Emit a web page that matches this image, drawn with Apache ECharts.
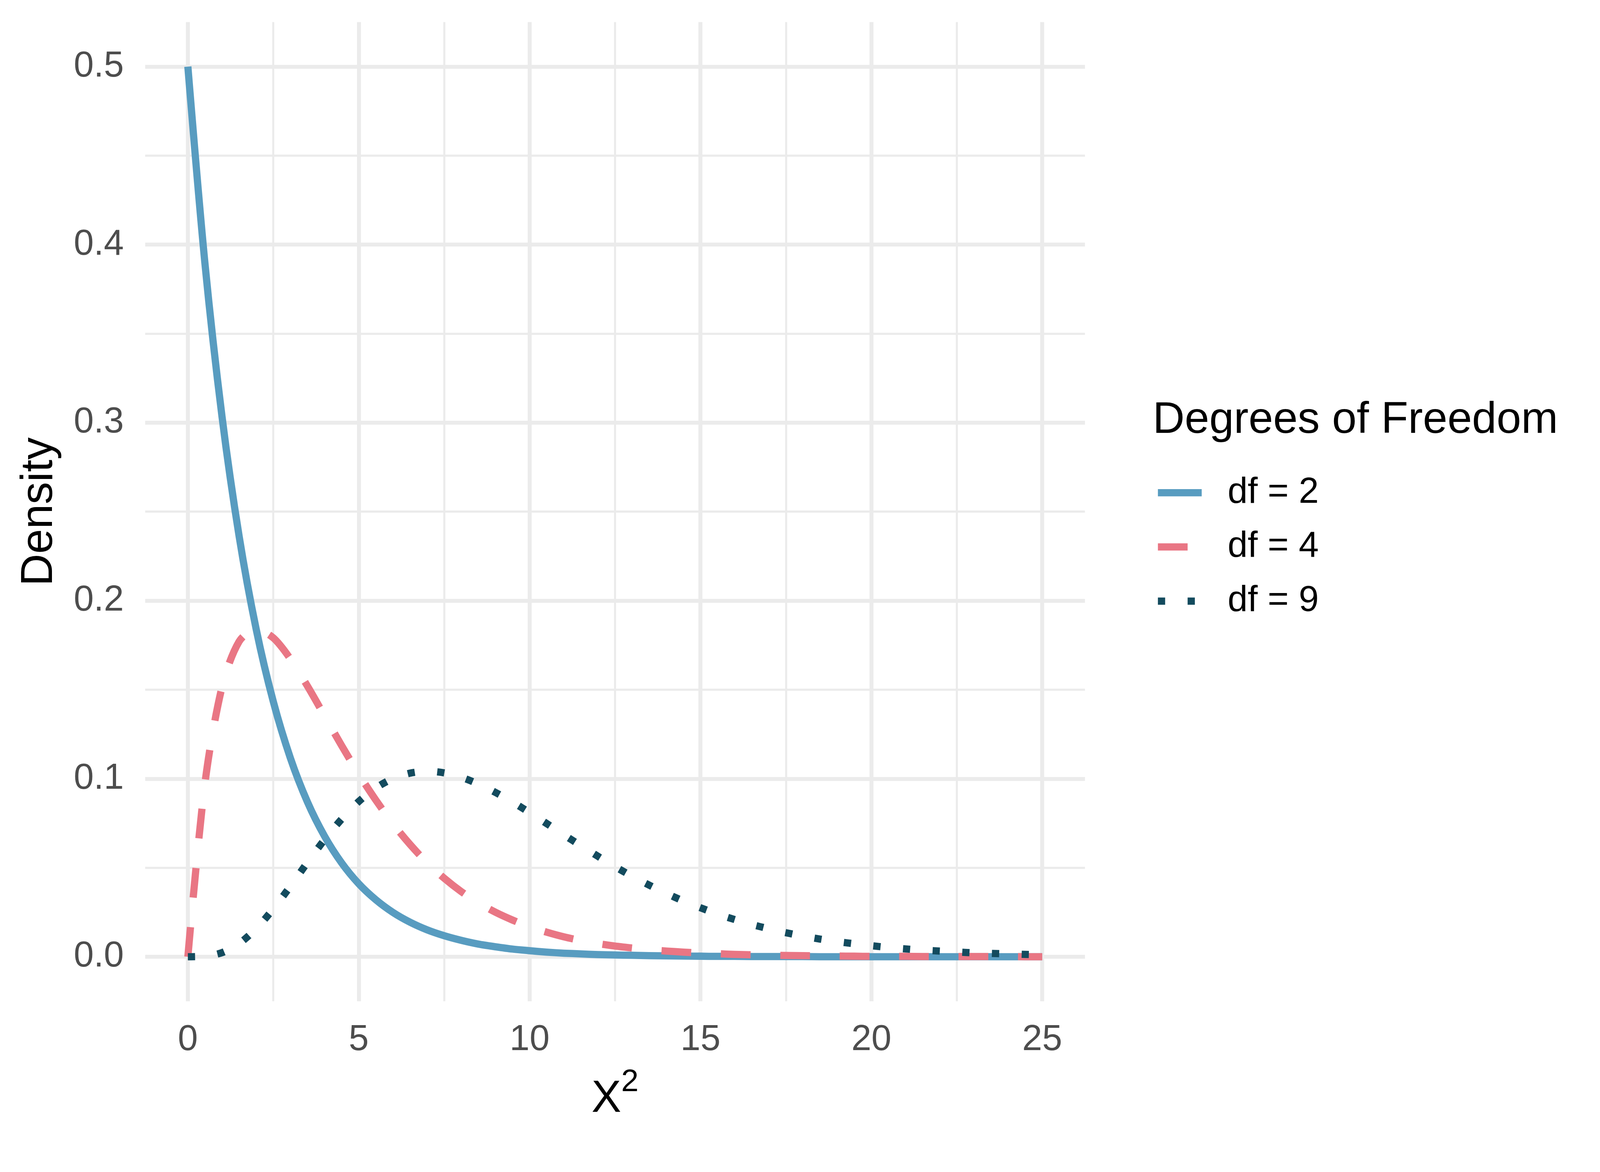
<!DOCTYPE html>
<html>
<head>
<meta charset="utf-8">
<script src="https://cdn.jsdelivr.net/npm/echarts@6.0.0/dist/echarts.min.js"></script>
<style>
  html, body { margin: 0; padding: 0; background: #fff; overflow: hidden; }
  #chart { width: 100vw; height: 100vh; }
</style>
</head>
<body>
<div id="chart"></div>
<script>
// x positions where the curves were read
var xs = [0, 0.5, 1, 1.5, 2, 2.5, 3, 3.5, 4, 4.5, 5, 5.5, 6, 6.5, 7, 7.5, 8, 8.5, 9, 9.5,
  10, 10.5, 11, 11.5, 12, 12.5, 13, 13.5, 14, 14.5, 15, 15.5, 16, 16.5, 17, 17.5, 18, 18.5,
  19, 19.5, 20, 20.5, 21, 21.5, 22, 22.5, 23, 23.5, 24, 24.5, 25];

// density values
var df2 = [0.5000, 0.3894, 0.3033, 0.2362, 0.1839, 0.1433, 0.1116, 0.0869, 0.0677, 0.0527,
  0.0410, 0.0320, 0.0249, 0.0194, 0.0151, 0.0118, 0.0092, 0.0071, 0.0056, 0.0043,
  0.0034, 0.0026, 0.0020, 0.0016, 0.0012, 0.0010, 0.0008, 0.0006, 0.0005, 0.0004,
  0.0003, 0.0002, 0.0002, 0.0001, 0.0001, 0.0001, 0.0001, 0.0000, 0.0000, 0.0000,
  0.0000, 0.0000, 0.0000, 0.0000, 0.0000, 0.0000, 0.0000, 0.0000, 0.0000, 0.0000, 0.0000];
var df4 = [0.0000, 0.0974, 0.1516, 0.1771, 0.1839, 0.1791, 0.1673, 0.1520, 0.1353, 0.1186,
  0.1026, 0.0880, 0.0747, 0.0631, 0.0528, 0.0441, 0.0366, 0.0303, 0.0250, 0.0206,
  0.0168, 0.0138, 0.0112, 0.0091, 0.0074, 0.0060, 0.0049, 0.0039, 0.0032, 0.0026,
  0.0021, 0.0017, 0.0013, 0.0011, 0.0009, 0.0007, 0.0006, 0.0005, 0.0004, 0.0003,
  0.0002, 0.0002, 0.0002, 0.0001, 0.0001, 0.0001, 0.0001, 0.0001, 0.0001, 0.0000, 0.0000];
var df9 = [0.0000, 0.0003, 0.0023, 0.0074, 0.0158, 0.0269, 0.0396, 0.0530, 0.0658, 0.0773,
  0.0872, 0.0948, 0.1001, 0.1031, 0.1042, 0.1033, 0.1008, 0.0970, 0.0923, 0.0869,
  0.0810, 0.0748, 0.0685, 0.0624, 0.0564, 0.0506, 0.0452, 0.0402, 0.0356, 0.0313,
  0.0275, 0.0240, 0.0209, 0.0181, 0.0157, 0.0135, 0.0116, 0.0099, 0.0085, 0.0073,
  0.0062, 0.0052, 0.0044, 0.0037, 0.0032, 0.0027, 0.0022, 0.0019, 0.0016, 0.0013, 0.0011];

var seriesNames = ['df = 2', 'df = 4', 'df = 9'];
var xMajor = [0, 5, 10, 15, 20, 25];
var xMinor = [2.5, 7.5, 12.5, 17.5, 22.5];
var yMajor = [0, 0.1, 0.2, 0.3, 0.4, 0.5];
var yMinor = [0.05, 0.15, 0.25, 0.35, 0.45];

var FONT = 'Liberation Sans';
var GRID = '#EBEBEB';

function pairs(ys) {
  return xs.map(function (x, i) { return [x, ys[i]]; });
}

var el = document.getElementById('chart');
var chart = echarts.init(el, null, { renderer: 'canvas' });
// layout was measured on a 4200 px wide canvas; scale uniformly by the real width
var s = chart.getWidth() / 4200;
function S(v) { return v * s; }

function axisBase(extra) {
  return Object.assign({
    type: 'value',
    gridIndex: 0,
    axisLine: { show: false },
    axisTick: { show: false },
    axisLabel: { show: false },
    splitLine: { show: true, lineStyle: { color: GRID } }
  }, extra);
}

function lineSeries(i, ys, color, dash) {
  return {
    name: seriesNames[i], type: 'line', data: pairs(ys),
    symbol: 'none', showSymbol: false, smooth: 0.3,
    lineStyle: { color: color, width: S(19), type: dash, cap: 'butt', join: 'round' },
    itemStyle: { color: color },
    emphasis: { disabled: true }
  };
}

chart.setOption({
  animation: false,
  backgroundColor: '#fff',
  textStyle: { fontFamily: FONT },
  title: {
    text: 'Degrees of Freedom',
    left: S(3026),
    top: S(1046),
    padding: 0,
    textStyle: { fontFamily: FONT, fontSize: S(116), fontWeight: 'normal', color: '#000', lineHeight: S(116) }
  },
  legend: {
    orient: 'vertical',
    left: S(3030),
    top: S(1246),
    padding: 0,
    itemWidth: S(115),
    itemHeight: S(100),
    itemGap: S(48),
    data: seriesNames,
    itemStyle: { opacity: 0 },
    lineStyle: { width: S(19), cap: 'butt' },
    textStyle: { fontFamily: FONT, fontSize: S(94.5), color: '#000', padding: [0, 0, 0, S(63)] }
  },
  grid: { left: S(381), top: S(58), width: S(2467), height: S(2570), containLabel: false },
  xAxis: [
    axisBase({
      min: -1.25, max: 26.25,
      position: 'bottom',
      name: '{x|X}{s|2}',
      nameLocation: 'middle',
      nameGap: S(172),
      nameTextStyle: {
        rich: {
          x: { fontFamily: FONT, fontSize: S(117), color: '#000', lineHeight: S(172) },
          s: { fontFamily: FONT, fontSize: S(82), color: '#000', lineHeight: S(82), verticalAlign: 'top' }
        }
      },
      axisTick: { show: false, customValues: xMajor },
      axisLabel: {
        show: true, customValues: xMajor, margin: S(55),
        fontFamily: FONT, fontSize: S(94.5), color: '#4D4D4D'
      },
      splitLine: { show: true, lineStyle: { color: GRID, width: S(10.5) } }
    }),
    axisBase({
      min: -1.25, max: 26.25,
      position: 'top',
      axisTick: { show: false, customValues: xMinor },
      axisLabel: { show: false, customValues: xMinor },
      splitLine: { show: true, lineStyle: { color: GRID, width: S(5.5) } }
    })
  ],
  yAxis: [
    axisBase({
      min: -0.025, max: 0.525,
      position: 'left',
      name: 'Density',
      nameLocation: 'middle',
      nameGap: S(218),
      nameTextStyle: { fontFamily: FONT, fontSize: S(117), color: '#000', lineHeight: S(117) },
      axisTick: { show: false, customValues: yMajor },
      axisLabel: {
        show: true, customValues: yMajor, margin: S(56),
        fontFamily: FONT, fontSize: S(94.5), color: '#4D4D4D',
        formatter: function (v) { return v.toFixed(1); }
      },
      splitLine: { show: true, lineStyle: { color: GRID, width: S(10.5) } }
    }),
    axisBase({
      min: -0.025, max: 0.525,
      position: 'right',
      axisTick: { show: false, customValues: yMinor },
      axisLabel: { show: false, customValues: yMinor },
      splitLine: { show: true, lineStyle: { color: GRID, width: S(5.5) } }
    })
  ],
  series: [
    lineSeries(0, df2, '#589CC0', 'solid'),
    lineSeries(1, df4, '#E97684', [S(78), S(78)]),
    lineSeries(2, df9, '#134B5E', [S(19), S(59)])
  ]
});
</script>
</body>
</html>
